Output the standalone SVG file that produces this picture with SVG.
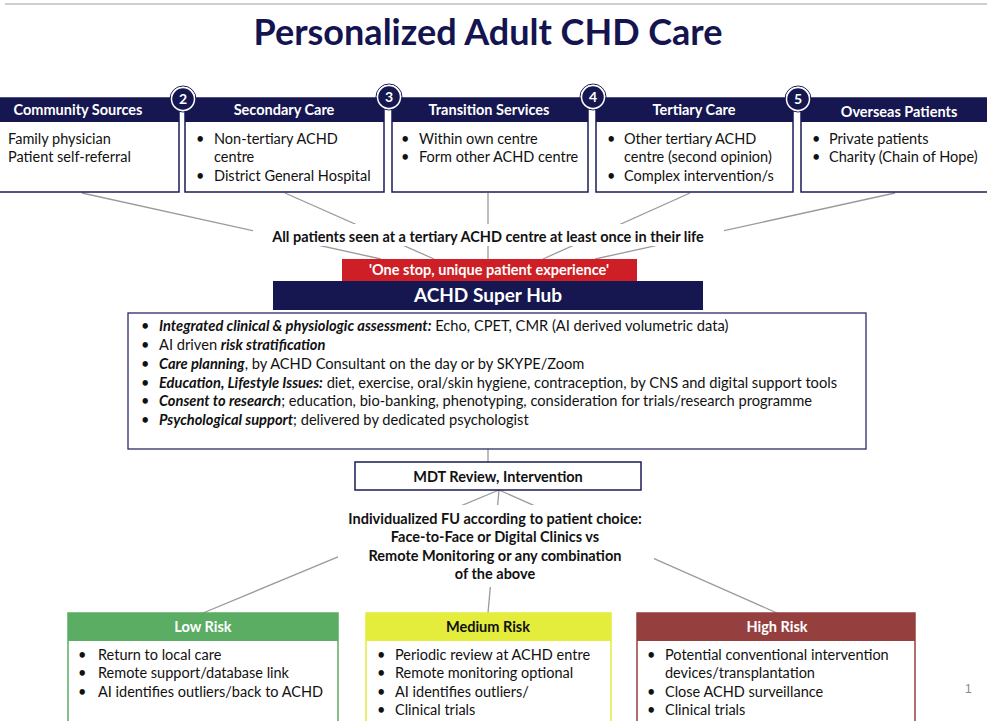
<svg xmlns="http://www.w3.org/2000/svg" width="987" height="721" viewBox="0 0 987 721">
<style>
text{font-family:Lato,"Open Sans","Liberation Sans",sans-serif;}
.t{font-size:14.5px;fill:#111;}
.m{font-size:14.65px;}
.b{font-weight:bold;}
.bi{font-weight:bold;font-style:italic;}
.hd{font-size:14.5px;font-weight:bold;fill:#fff;text-anchor:middle;}
.box{fill:#fff;stroke:#1b1b58;stroke-width:1.5;}
.hdr{fill:#161650;}
.cn{stroke:#9a9a9a;stroke-width:1.3;fill:none;}
.num{font-size:14px;font-weight:bold;fill:#fff;text-anchor:middle;}
.circ{fill:#161650;stroke:#fff;stroke-width:1.5;}
.ring{fill:none;stroke:#161650;stroke-width:1;}
.c{text-anchor:middle;}
</style>
<rect x="0" y="0" width="987" height="721" fill="#fff"/>
<line x1="5" y1="4" x2="987" y2="4" stroke="#cfcfcf" stroke-width="2"/>
<text x="488" y="45" class="c" style="font-size:36px;font-weight:bold;fill:#141450">Personalized Adult CHD Care</text>

<g id="connectors">
<line class="cn" x1="82" y1="193" x2="381" y2="259"/>
<line class="cn" x1="285" y1="193" x2="434" y2="259"/>
<line class="cn" x1="488" y1="193" x2="488" y2="259"/>
<line class="cn" x1="690" y1="193" x2="543" y2="259"/>
<line class="cn" x1="895" y1="193" x2="595" y2="259"/>
<line class="cn" x1="488" y1="449" x2="488" y2="462"/>
<line class="cn" x1="499" y1="490" x2="203" y2="613"/>
<line class="cn" x1="499" y1="490" x2="488" y2="613"/>
<line class="cn" x1="499" y1="490" x2="777" y2="613"/>
</g>

<g id="community">
<rect class="box" x="-10" y="98" width="189" height="94"/>
<rect class="hdr" x="-10" y="98" width="189" height="24"/>
<text class="hd" x="78" y="115">Community Sources</text>
<text class="t" x="8" y="144">Family physician</text>
<text class="t" x="8" y="162">Patient self-referral</text>
</g>
<g id="secondary">
<rect class="box" x="185" y="98" width="199" height="94"/>
<rect class="hdr" x="185" y="98" width="199" height="24"/>
<text class="hd" x="284" y="115">Secondary Care</text>
<text class="t" x="196" y="144">•</text><text class="t" x="214" y="144">Non-tertiary ACHD</text>
<text class="t" x="214" y="162">centre</text>
<text class="t" x="196" y="181">•</text><text class="t" x="214" y="181">District General Hospital</text>
</g>
<g id="transition">
<rect class="box" x="392" y="98" width="196" height="94"/>
<rect class="hdr" x="392" y="98" width="196" height="24"/>
<text class="hd" x="489" y="115">Transition Services</text>
<text class="t" x="401" y="144">•</text><text class="t" x="419" y="144">Within own centre</text>
<text class="t" x="401" y="162">•</text><text class="t" x="419" y="162">Form other ACHD centre</text>
</g>
<g id="tertiary">
<rect class="box" x="596" y="98" width="197" height="94"/>
<rect class="hdr" x="596" y="98" width="197" height="24"/>
<text class="hd" x="694" y="115">Tertiary Care</text>
<text class="t" x="607" y="144">•</text><text class="t" x="624" y="144">Other tertiary ACHD</text>
<text class="t" x="624" y="162">centre (second opinion)</text>
<text class="t" x="607" y="181">•</text><text class="t" x="624" y="181">Complex intervention/s</text>
</g>
<g id="overseas">
<rect class="box" x="801" y="98" width="195" height="94"/>
<rect class="hdr" x="801" y="98" width="195" height="24"/>
<text class="hd" x="899" y="117">Overseas Patients</text>
<text class="t" x="812" y="144">•</text><text class="t" x="829" y="144">Private patients</text>
<text class="t" x="812" y="162">•</text><text class="t" x="829" y="162">Charity (Chain of Hope)</text>
</g>

<g id="badges">
<circle class="ring" cx="183" cy="99" r="13"/><circle class="circ" cx="183" cy="99" r="11.5"/><text class="num" x="183" y="104">2</text>
<circle class="ring" cx="389" cy="97" r="13"/><circle class="circ" cx="389" cy="97" r="11.5"/><text class="num" x="389" y="102">3</text>
<circle class="ring" cx="593" cy="97" r="13"/><circle class="circ" cx="593" cy="97" r="11.5"/><text class="num" x="593" y="102">4</text>
<circle class="ring" cx="798" cy="99" r="13"/><circle class="circ" cx="798" cy="99" r="11.5"/><text class="num" x="798" y="104">5</text>
</g>

<g id="all-patients">
<rect x="253" y="224" width="471" height="22" fill="#fff"/>
<text class="t b c" x="488" y="242">All patients seen at a tertiary ACHD centre at least once in their life</text>
</g>

<g id="one-stop">
<rect x="342" y="259" width="295" height="22" fill="#cd1f25"/>
<text class="c" x="489" y="275" style="font-size:14.5px;font-weight:bold;fill:#fff">'One stop, unique patient experience'</text>
</g>

<g id="super-hub">
<rect x="273" y="281" width="430" height="29" fill="#161650"/>
<text class="c" x="488" y="302" style="font-size:19px;font-weight:bold;fill:#fff">ACHD Super Hub</text>
</g>

<g id="hub-details">
<rect x="128" y="313" width="738" height="136" fill="#fff" stroke="#2a2a68" stroke-width="1.3"/>
<text class="t" x="141" y="331">•</text><text class="t m" x="159" y="331"><tspan class="bi">Integrated clinical &amp; physiologic assessment:</tspan> Echo, CPET, CMR (AI derived volumetric data)</text>
<text class="t" x="141" y="350">•</text><text class="t m" x="159" y="350">AI driven <tspan class="bi">risk stratification</tspan></text>
<text class="t" x="141" y="369">•</text><text class="t m" x="159" y="369"><tspan class="bi">Care planning</tspan>, by ACHD Consultant on the day or by SKYPE/Zoom</text>
<text class="t" x="141" y="388">•</text><text class="t m" x="159" y="388"><tspan class="bi">Education, Lifestyle Issues:</tspan> diet, exercise, oral/skin hygiene, contraception, by CNS and digital support tools</text>
<text class="t" x="141" y="406">•</text><text class="t m" x="159" y="406"><tspan class="bi">Consent to research</tspan>; education, bio-banking, phenotyping, consideration for trials/research programme</text>
<text class="t" x="141" y="425">•</text><text class="t m" x="159" y="425"><tspan class="bi">Psychological support</tspan>; delivered by dedicated psychologist</text>
</g>

<g id="mdt">
<rect x="355" y="462" width="286" height="28" fill="#fff" stroke="#1b1b58" stroke-width="1.5"/>
<text class="t b c" x="498" y="482">MDT Review, Intervention</text>
</g>

<g id="followup">
<rect x="338" y="505" width="316" height="82" fill="#fff"/>
<text class="t b c" x="495" y="524">Individualized FU according to patient choice:</text>
<text class="t b c" x="495" y="542">Face-to-Face or Digital Clinics vs</text>
<text class="t b c" x="495" y="561">Remote Monitoring or any combination</text>
<text class="t b c" x="495" y="579">of the above</text>
</g>

<g id="low-risk">
<rect x="68" y="613" width="270" height="120" fill="#fff" stroke="#5aad62" stroke-width="1.5"/>
<rect x="68" y="613" width="270" height="28" fill="#5aad62"/>
<text class="hd" x="203" y="632">Low Risk</text>
<text class="t" x="78" y="660">•</text><text class="t" x="98" y="660">Return to local care</text>
<text class="t" x="78" y="678">•</text><text class="t" x="98" y="678">Remote support/database link</text>
<text class="t" x="78" y="697">•</text><text class="t" x="98" y="697">AI identifies outliers/back to ACHD</text>
</g>

<g id="medium-risk">
<rect x="366" y="613" width="245" height="120" fill="#fff" stroke="#e4ec3c" stroke-width="1.5"/>
<rect x="366" y="613" width="245" height="28" fill="#e4ec3c"/>
<text class="c" x="488" y="632" style="font-size:14.5px;font-weight:bold;fill:#111">Medium Risk</text>
<text class="t" x="377" y="660">•</text><text class="t" x="395" y="660">Periodic review at ACHD entre</text>
<text class="t" x="377" y="678">•</text><text class="t" x="395" y="678">Remote monitoring optional</text>
<text class="t" x="377" y="697">•</text><text class="t" x="395" y="697">AI identifies outliers/</text>
<text class="t" x="377" y="715">•</text><text class="t" x="395" y="715">Clinical trials</text>
</g>

<g id="high-risk">
<rect x="637" y="613" width="278" height="120" fill="#fff" stroke="#95403f" stroke-width="1.5"/>
<rect x="637" y="613" width="278" height="28" fill="#95403f"/>
<text class="hd" x="777" y="632">High Risk</text>
<text class="t" x="647" y="660">•</text><text class="t" x="665" y="660">Potential conventional intervention</text>
<text class="t" x="665" y="678">devices/transplantation</text>
<text class="t" x="647" y="697">•</text><text class="t" x="665" y="697">Close ACHD surveillance</text>
<text class="t" x="647" y="715">•</text><text class="t" x="665" y="715">Clinical trials</text>
</g>

<text x="965" y="693" style="font-size:12px;fill:#888;font-family:'Liberation Sans',sans-serif">1</text>
</svg>
